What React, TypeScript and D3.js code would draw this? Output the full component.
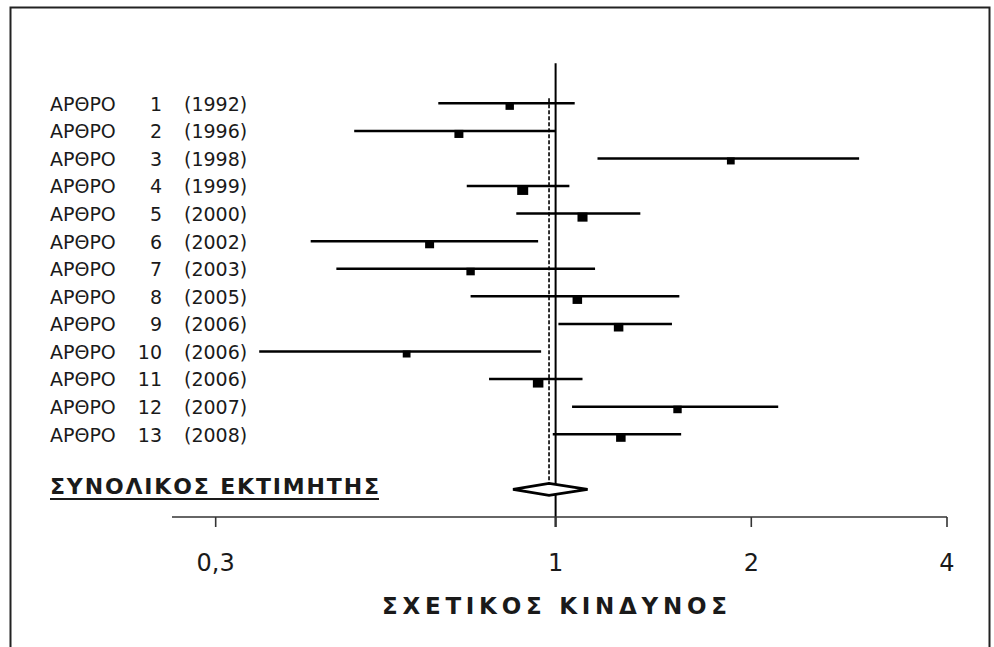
import React from 'react';
import * as d3 from 'd3';

// study rows
const studyNums = [1, 2, 3, 4, 5, 6, 7, 8, 9, 10, 11, 12, 13];
const studyYears = ['1992', '1996', '1998', '1999', '2000', '2002', '2003', '2005', '2006', '2006', '2006', '2007', '2008'];
const estimates = [0.85, 0.71, 1.86, 0.89, 1.10, 0.64, 0.74, 1.08, 1.25, 0.59, 0.94, 1.54, 1.26];
const lowerCI = [0.66, 0.49, 1.16, 0.73, 0.87, 0.42, 0.46, 0.74, 1.01, 0.35, 0.79, 1.06, 0.99];
const upperCI = [1.07, 1.0, 2.93, 1.05, 1.35, 0.94, 1.15, 1.55, 1.51, 0.95, 1.10, 2.2, 1.56];
const weights = [7, 8, 6, 12, 10, 8, 7, 9, 9, 6, 11, 7, 9];

// pooled estimate
const pooledEst = 0.977;
const pooledLow = 0.86;
const pooledHigh = 1.12;

const tickValues = [0.3, 1, 2, 4];
const tickLabels = ['0,3', '1', '2', '4'];

const rowLabel = 'ΑΡΘΡΟ';
const pooledLabel = 'ΣΥΝΟΛΙΚΟΣ  ΕΚΤΙΜΗΤΗΣ';
const axisTitle = 'ΣΧΕΤΙΚΟΣ  ΚΙΝΔΥΝΟΣ';

const W = 994;
const H = 647;
const FONT = '"DejaVu Sans", sans-serif';

export default function App() {
  const x = d3.scaleLog().domain([0.257, 4]).range([172, 947]);
  const y = d3.scaleLinear().domain([0, 14]).range([103.3, 489.4]);
  const size = d3.scaleSqrt().domain([0, 12]).range([0, 11]);

  const axisY = 517;
  const pooledRow = 14;
  const py = y(pooledRow);

  const diamond = d3.line()([
    [x(pooledLow), py],
    [x(pooledEst), py - 6],
    [x(pooledHigh), py],
    [x(pooledEst), py + 6],
  ]) + 'Z';

  return (
    <svg width={W} height={H} style={{ position: 'absolute', left: 0, top: 0, background: '#fff' }}>
      {/* frame */}
      <path d={`M10.5,${H} V7.5 H989.5 V${H}`} fill="none" stroke="#222" strokeWidth={2} />

      {/* null line and pooled dashed line */}
      <line x1={x(1)} x2={x(1)} y1={y(-1.45)} y2={axisY + 10} stroke="#000" strokeWidth={2} />
      <line x1={x(pooledEst)} x2={x(pooledEst)} y1={y(-0.18)} y2={py} stroke="#000" strokeWidth={1.6} strokeDasharray="4,2" />

      {/* study rows */}
      {studyNums.map((n, i) => {
        const ry = y(i);
        const s = size(weights[i]);
        return (
          <g key={n}>
            <text x={50} y={ry} dy="0.39em" fontFamily={FONT} fontSize={19} fill="#1a1a1a">{rowLabel}</text>
            <text x={162} y={ry} dy="0.39em" fontFamily={FONT} fontSize={19} fill="#1a1a1a" textAnchor="end">{n}</text>
            <text x={184} y={ry} dy="0.39em" fontFamily={FONT} fontSize={19} fill="#1a1a1a">({studyYears[i]})</text>
            <line x1={x(lowerCI[i])} x2={x(upperCI[i])} y1={ry} y2={ry} stroke="#000" strokeWidth={2.5} />
            <rect x={x(estimates[i]) - s / 2} y={ry - 1} width={s} height={s * 0.9} fill="#000" />
          </g>
        );
      })}

      {/* pooled */}
      <text x={50} y={py + 5} fontFamily={FONT} fontSize={22} fontWeight="bold" fill="#1a1a1a"
        textLength={329} lengthAdjust="spacing">{pooledLabel}</text>
      <line x1={50} x2={379} y1={py + 9.5} y2={py + 9.5} stroke="#1a1a1a" strokeWidth={2} />
      <path d={diamond} fill="#fff" stroke="#000" strokeWidth={2.8} />

      {/* x axis */}
      <line x1={x.range()[0]} x2={x.range()[1]} y1={axisY} y2={axisY} stroke="#333" strokeWidth={1.6} />
      {tickValues.map((t, i) => (
        <g key={t}>
          <line x1={x(t)} x2={x(t)} y1={axisY} y2={axisY + 10} stroke="#333" strokeWidth={1.6} />
          <text x={x(t)} y={571} textAnchor="middle" fontFamily={FONT} fontSize={24} fill="#1a1a1a">{tickLabels[i]}</text>
        </g>
      ))}
      <text x={382} y={614} fontFamily={FONT} fontSize={23} fontWeight="bold" fill="#1a1a1a"
        textLength={345} lengthAdjust="spacing">{axisTitle}</text>
    </svg>
  );
}
